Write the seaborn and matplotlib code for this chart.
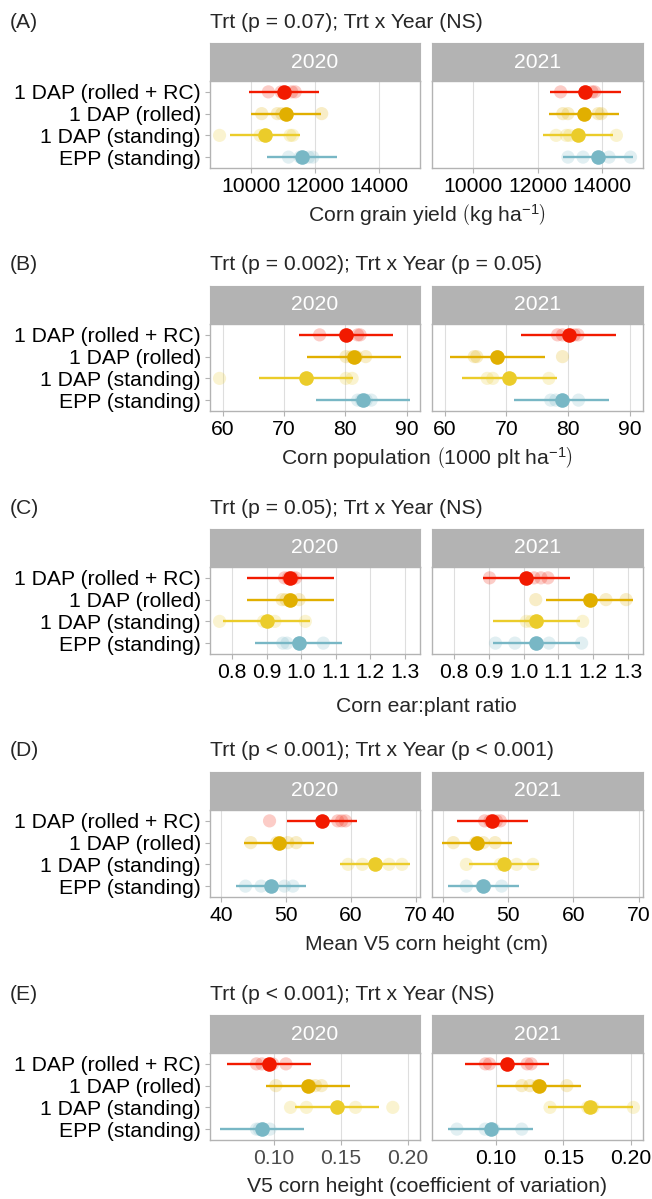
#bibliotecas
import pandas as pd
import numpy as np
import matplotlib.pyplot as plt
import matplotlib.ticker as mticker
import seaborn as sns

#tratamentos e cores (Zissou1)
trts = ['1 DAP (rolled + RC)', '1 DAP (rolled)', '1 DAP (standing)', 'EPP (standing)']
cores = ['#F21A00', '#E1AF00', '#EBCC2A', '#78B7C5']
anos = ['2020', '2021']

#(A) produtividade de graos
yld_2020_obs = [[10540, 10940, 11270, 11380], [10330, 10820, 10960, 12210],
                [9010, 10280, 11220, 11300], [11170, 11530, 11800, 11930]]
yld_2021_obs = [[12720, 13480, 13700, 13780], [12790, 12950, 13890, 13990],
                [12580, 12900, 13000, 14460], [12950, 13420, 14230, 14900]]
yld_2020_med = [11030, 11090, 10440, 11600]
yld_2021_med = [13490, 13450, 13260, 13890]
yld_ic = 1100

#(B) populacao
pop_2020_obs = [[75.8, 80.0, 82.0, 82.4], [80.1, 81.0, 81.8, 83.3],
                [59.5, 73.8, 80.1, 81.1], [82.0, 82.6, 83.4, 84.2]]
pop_2021_obs = [[78.3, 79.1, 81.0, 81.6], [64.8, 65.2, 68.5, 79.1],
                [66.9, 67.8, 70.7, 76.9], [77.2, 78.0, 79.1, 81.7]]
pop_2020_med = [80.1, 81.4, 73.6, 82.9]
pop_2021_med = [80.1, 68.5, 70.5, 79.0]
pop_ic = 7.7

#(C) razao espiga:planta
ear_2020_obs = [[0.952, 0.963, 0.975, 0.984], [0.945, 0.956, 0.970, 0.994],
                [0.764, 0.891, 0.924, 1.012], [0.947, 0.959, 0.995, 1.064]]
ear_2021_obs = [[0.902, 1.030, 1.050, 1.070], [1.035, 1.190, 1.237, 1.295],
                [1.008, 1.022, 1.040, 1.170], [0.919, 0.975, 1.073, 1.167]]
ear_2020_med = [0.968, 0.968, 0.900, 0.993]
ear_2021_med = [1.008, 1.190, 1.037, 1.037]
ear_ic = 0.126

#(D) altura media V5
alt_2020_obs = [[47.5, 58.0, 58.6, 59.2], [44.6, 48.6, 50.3, 51.6],
                [59.6, 61.8, 65.9, 67.9], [43.8, 46.2, 49.8, 51.1]]
alt_2021_obs = [[46.4, 47.2, 48.2, 48.8], [41.6, 45.0, 46.2, 48.0],
                [43.6, 48.8, 51.3, 53.8], [43.6, 46.0, 46.4, 49.0]]
alt_2020_med = [55.6, 48.9, 63.8, 47.7]
alt_2021_med = [47.6, 45.2, 49.4, 46.2]
alt_ic = 5.4

#(E) CV da altura V5
cv_2020_obs = [[0.087, 0.091, 0.099, 0.109], [0.1015, 0.127, 0.131, 0.1355],
               [0.1124, 0.1243, 0.161, 0.1888], [0.087, 0.089, 0.092, 0.097]]
cv_2021_obs = [[0.092, 0.095, 0.123, 0.126], [0.119, 0.125, 0.131, 0.1525],
               [0.140, 0.168, 0.172, 0.202], [0.0708, 0.0918, 0.098, 0.119]]
cv_2020_med = [0.096, 0.1255, 0.147, 0.0908]
cv_2021_med = [0.108, 0.132, 0.170, 0.0958]
cv_ic = 0.0314

paineis = [
    ('(A)', 'Trt (p = 0.07); Trt x Year (NS)',
     r'Corn grain yield $\left(\mathrm{kg\ ha^{-1}}\right)$',
     [yld_2020_obs, yld_2021_obs], [yld_2020_med, yld_2021_med], yld_ic,
     [10000, 12000, 14000], '%d'),
    ('(B)', 'Trt (p = 0.002); Trt x Year (p = 0.05)',
     r'Corn population $\left(\mathrm{1000\ plt\ ha^{-1}}\right)$',
     [pop_2020_obs, pop_2021_obs], [pop_2020_med, pop_2021_med], pop_ic,
     [60, 70, 80, 90], '%d'),
    ('(C)', 'Trt (p = 0.05); Trt x Year (NS)', 'Corn ear:plant ratio',
     [ear_2020_obs, ear_2021_obs], [ear_2020_med, ear_2021_med], ear_ic,
     [0.8, 0.9, 1.0, 1.1, 1.2, 1.3], '%.1f'),
    ('(D)', 'Trt (p < 0.001); Trt x Year (p < 0.001)', 'Mean V5 corn height (cm)',
     [alt_2020_obs, alt_2021_obs], [alt_2020_med, alt_2021_med], alt_ic,
     [40, 50, 60, 70], '%d'),
    ('(E)', 'Trt (p < 0.001); Trt x Year (NS)', 'V5 corn height (coefficient of variation)',
     [cv_2020_obs, cv_2021_obs], [cv_2020_med, cv_2021_med], cv_ic,
     [0.10, 0.15, 0.20], '%.2f'),
]

sns.set_style('white')
plt.rcParams['font.family'] = ['Liberation Sans', 'DejaVu Sans']
plt.rcParams['mathtext.fontset'] = 'custom'
plt.rcParams['mathtext.rm'] = 'Liberation Sans'
plt.rcParams['mathtext.it'] = 'Liberation Sans:italic'

W, H = 652, 1199
fig = plt.figure(figsize=(W/100, H/100), dpi=100)

def pos(x0, y0, w, h):
    return [x0/W, 1-(y0+h)/H, w/W, h/H]

fs = 15.2
cinza = '#B3B3B3'
facetas_x = [(210, 210), (432, 211)]

for i, (letra, sub, xlab, obs, meds, ic, ticks, fmt) in enumerate(paineis):
    topo = 43 + 243*i
    fig.text(10/W, 1-(topo-21)/H, letra, fontsize=fs, va='center')
    fig.text(210/W, 1-(topo-21)/H, sub, fontsize=fs, va='center')

    #limites comuns aos dois anos (expansao de 5%)
    todos = np.concatenate([np.ravel(obs), np.array(meds).ravel()-ic, np.array(meds).ravel()+ic])
    rng = todos.max()-todos.min()
    lims = (todos.min()-0.05*rng, todos.max()+0.05*rng)

    for j, ano in enumerate(anos):
        x0, w = facetas_x[j]
        #faixa do ano
        st = fig.add_axes(pos(x0, topo, w, 38))
        st.set_facecolor(cinza)
        st.set_xticks([]); st.set_yticks([])
        for s in st.spines.values():
            s.set_color(cinza)
        st.text(0.5, 0.5, ano, color='white', fontsize=fs, ha='center', va='center',
                transform=st.transAxes)

        ax = fig.add_axes(pos(x0, topo+38, w, 87))
        df_obs = pd.DataFrame({'trt': np.repeat(trts, 4), 'valor': np.ravel(obs[j])})
        df_med = pd.DataFrame({'trt': trts, 'valor': meds[j]})
        df_med['lo'] = df_med['valor']-ic
        df_med['hi'] = df_med['valor']+ic

        ax.grid(axis='x', color='#DEDEDE', linewidth=0.8, zorder=0)
        ax.set_axisbelow(True)

        sns.stripplot(df_obs, x='valor', y='trt', hue='trt', order=trts, hue_order=trts,
                      palette=cores, jitter=False, alpha=0.22, size=9.5,
                      linewidth=0, legend=False, ax=ax, zorder=2)
        ax.hlines(y=np.arange(len(trts)), xmin=df_med['lo'], xmax=df_med['hi'],
                  colors=cores, linewidth=1.7, zorder=3)
        sns.stripplot(df_med, x='valor', y='trt', hue='trt', order=trts, hue_order=trts,
                      palette=cores, jitter=False, size=10.5,
                      linewidth=0, legend=False, ax=ax, zorder=4)

        ax.set_xlim(lims)
        ax.set_ylim(len(trts)-0.5, -0.5)
        ax.set_xticks(ticks)
        ax.xaxis.set_major_formatter(mticker.FormatStrFormatter(fmt))
        ax.set_xlabel('')
        ax.set_ylabel('')
        ax.tick_params(axis='both', color=cinza, length=3.5, width=0.8,
                       labelsize=fs, pad=3, labelcolor='black')
        ax.tick_params(axis='x', bottom=True)
        ax.tick_params(axis='y', left=True)
        if j == 1:
            ax.set_yticklabels([])
            ax.tick_params(axis='y', left=False)
        if letra == '(E)' and j == 0:
            ax.tick_params(axis='x', labelcolor='#4D4D4D')
        for s in ax.spines.values():
            s.set_color(cinza)
            s.set_linewidth(1.0)

    desl = 53 if letra == '(C)' else 47
    fig.text(426.5/W, 1-(topo+38+87+desl)/H, xlab, fontsize=fs, ha='center', va='center')

fig.savefig('out.png', dpi=100)
